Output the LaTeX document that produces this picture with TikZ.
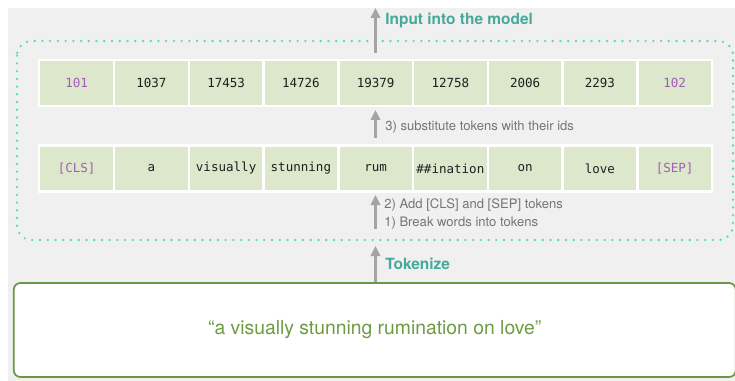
\documentclass[tikz,border=0pt]{standalone}
\usepackage{fontspec}
\setmainfont{TeX Gyre Heros}
\newfontfamily\monofont{DejaVu Sans Mono}
\usetikzlibrary{arrows.meta}
\definecolor{bggray}{HTML}{F0F0F0}
\definecolor{cellgreen}{HTML}{DDE7CC}
\definecolor{tokpurple}{HTML}{A25DB8}
\definecolor{teal}{HTML}{47A99B}
\definecolor{dotcol}{HTML}{52DCC9}
\definecolor{arrgray}{HTML}{A4A4A4}
\definecolor{lblgray}{HTML}{757575}
\definecolor{boxgreen}{HTML}{6A9848}
\definecolor{txtgreen}{HTML}{6E9C40}
\tikzset{
  cell/.style={fill=cellgreen, minimum width=54.19pt, minimum height=32.4pt, inner sep=0pt,
    font=\monofont\fontsize{9.4}{11}\selectfont, text=black!88},
  special/.style={cell, text=tokpurple},
  arr/.style={draw=arrgray, line width=1.9pt, -{Triangle[length=7.5pt,width=7pt]}},
  steplbl/.style={anchor=west, inner sep=0pt, text=lblgray, font=\fontsize{9.8}{12}\selectfont},
  headlbl/.style={anchor=west, inner sep=0pt, text=teal, font=\bfseries\fontsize{11.6}{14}\selectfont},
  rowframe/.style={fill=white},
}
\begin{document}
\begin{tikzpicture}[x=0.75pt,y=-0.75pt]
\useasboundingbox (0,0) rectangle (735,381);
% background
\fill[bggray] (8,8) rectangle (735,381);
% dotted frame
\draw[dotcol, line width=2pt, line cap=round, dash pattern=on 0pt off 5.8pt, rounded corners=11pt]
  (17,41) rectangle (733,240);
% row frames
\fill[rowframe] (38,59) rectangle (713,107);
\fill[rowframe] (38,144) rectangle (713,193);
% row 1 (ids)
\foreach \t [count=\i from 0] in {101,1037,17453,14726,19379,12758,2006,2293,102}{
  \ifnum\i=0
    \node[special] (a\i) at (76.625+74.75*\i,83) {\t};
  \else\ifnum\i=8
    \node[special] (a\i) at (76.625+74.75*\i,83) {\t};
  \else
    \node[cell] (a\i) at (76.625+74.75*\i,83) {\t};
  \fi\fi
}
% row 2 (tokens)
\foreach \t [count=\i from 0] in {{[CLS]},a,visually,stunning,rum,\#\#ination,on,love,{[SEP]}}{
  \ifnum\i=0
    \node[special] (b\i) at (76.625+74.75*\i,168.5) {\t};
  \else\ifnum\i=8
    \node[special] (b\i) at (76.625+74.75*\i,168.5) {\t};
  \else
    \node[cell] (b\i) at (76.625+74.75*\i,168.5) {\t};
  \fi\fi
}
% sentence box
\node[draw=boxgreen, fill=white, line width=1.3pt, rounded corners=5pt,
  minimum width=541.5pt, minimum height=70.5pt, inner sep=0pt,
  text=txtgreen, font=\fontsize{14.5}{17}\selectfont] (sent) at (374.75,330) {“a visually stunning rumination on love”};
% arrow coordinates
\coordinate (topTip) at (375.5,8);
\coordinate (topBase) at (375.5,53);
\coordinate (midTip) at (375.5,110);
\coordinate (midBase) at (375.5,138);
\coordinate (lowTip) at (375.5,195);
\coordinate (lowBase) at (375.5,229);
\coordinate (tokTip) at (375.5,246);
% arrows
\draw[arr] (topBase) -- (topTip);
\draw[arr] (midBase) -- (midTip);
\draw[arr] (lowBase) -- (lowTip);
\draw[arr] (sent.north -| tokTip) -- (tokTip);
% labels
\node[headlbl] (lblInput) at (385,20) {Input into the model};
\node[steplbl] (lbl3) at (385,127) {3) substitute tokens with their ids};
\node[steplbl] (lbl2) at (384,205) {2) Add [CLS] and [SEP] tokens};
\node[steplbl] (lbl1) at (384,223) {1) Break words into tokens};
\node[headlbl] (lblTok) at (385,264) {Tokenize};
\end{tikzpicture}
\end{document}
